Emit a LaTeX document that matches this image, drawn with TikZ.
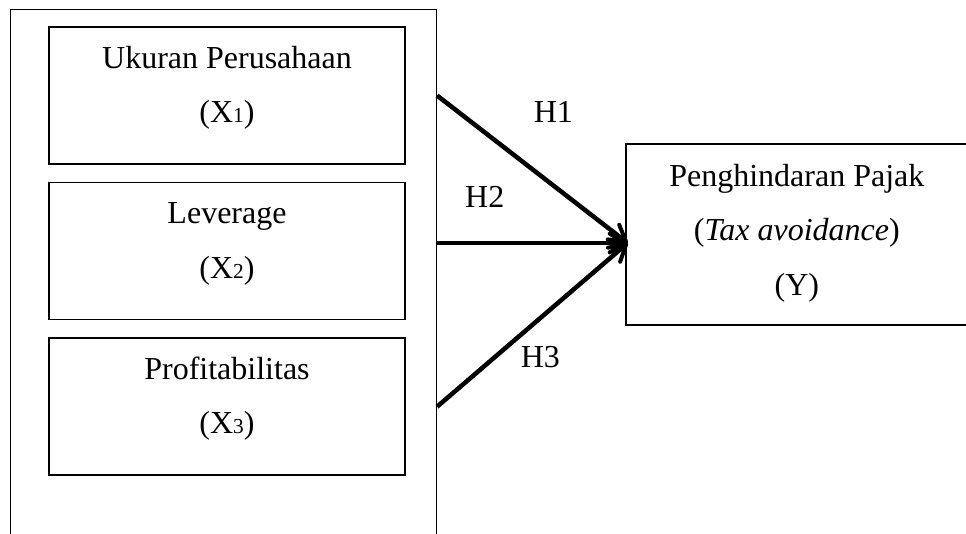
\documentclass[tikz,border=0pt]{standalone}
\usepackage{fontspec}
\setmainfont{Liberation Serif}
\usetikzlibrary{positioning, arrows.meta}
\tikzstyle{frame} = [rectangle, draw=black, line width=0.8pt, minimum width=319.5pt, minimum height=443.25pt, inner sep=0pt]
\tikzstyle{var} = [rectangle, draw=black, line width=1.2pt, minimum width=267pt, minimum height=102.75pt, inner sep=0pt, font=\fontsize{24}{41}\selectfont]
\tikzstyle{dep} = [var, minimum width=256.5pt, minimum height=135.75pt]
\tikzstyle{hyp} = [font=\fontsize{24}{24}\selectfont, inner sep=0pt]
\tikzstyle{line} = [draw, line width=3.4pt, -{Straight Barb[length=12pt, width=14pt, line width=3pt, round]}]
\newcommand{\lift}[2][8.25pt]{\raisebox{#1}[\height][\depth]{\begin{tabular}{@{}c@{}}#2\end{tabular}}}
\newcommand{\idx}[1]{{\fontsize{16}{16}\selectfont #1}}

\begin{document}
\begin{tikzpicture}[x=0.75pt, y=0.75pt]
    \useasboundingbox (0,0) rectangle (966,-534);
    % Nodes
    \node [frame, anchor=north west] (frame) at (10,-9) {};
    \node [var] (ukuran) at (227,-95.5) {\lift{Ukuran Perusahaan\\(X\idx{1})}};
    \node [var, below=12.75pt of ukuran] (leverage) {\lift{Leverage\\(X\idx{2})}};
    \node [var, below=12.75pt of leverage] (profit) {\lift{Profitabilitas\\(X\idx{3})}};
    \node [dep, anchor=west] (tax) at (625,-234.5) {\lift[3.4pt]{Penghindaran Pajak\\(\textit{Tax avoidance})\\(Y)}};
    \coordinate [below=6.4pt of tax.west, xshift=2pt] (tip);

    % Edges
    \path [line] (frame.east |- ukuran) -- node [hyp, pos=0.6, xshift=1.5pt, yshift=54pt] {H1} (tip);
    \path [line] (frame.east |- tip) -- node [hyp, pos=0.25, yshift=34.5pt] {H2} (tip);
    \path [line] (frame.east |- profit) -- node [hyp, pos=0.5, xshift=6pt, yshift=-24pt] {H3} (tip);
\end{tikzpicture}
\end{document}
